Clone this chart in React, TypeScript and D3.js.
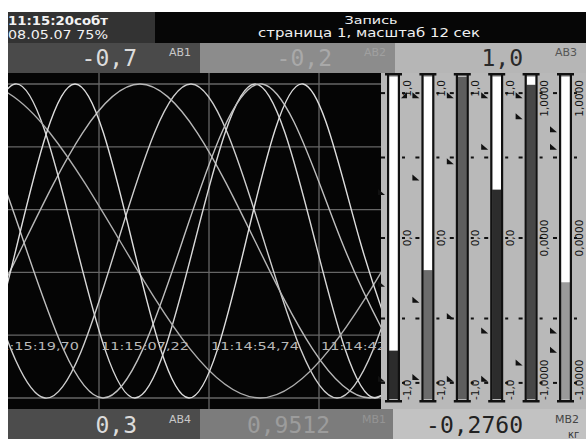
import React from "react";
import * as d3 from "d3";

// ---- data ----
const channels = ["АВ1", "АВ2", "АВ3", "АВ4", "МВ1", "МВ2"];
const currentValues = [-0.7, -0.2, 1.0, 0.3, 0.9512, -0.276];
const valueLabels = ["-0,7", "-0,2", "1,0", "0,3", "0,9512", "-0,2760"];
const scaleTop = ["1,0", "1,0", "1,0", "1,0", "1,0000", "1,0000"];
const scaleMid = ["0,0", "0,0", "0,0", "0,0", "0,0000", "0,0000"];
const scaleBottom = ["-1,0", "-1,0", "-1,0", "-1,0", "-1,0000", "-1,0000"];
const timeLabels = ["11:15:19,70", "11:15:07,22", "11:14:54,74", "11:14:42,26", "11:14:29,78"];
const gridStepSec = 12.48;
const gridValues = [1, 0.6, 0.2, -0.2, -0.6, -1];
const barTicks = [0.9, 0.5, 0, -0.5, -0.9];

// trend key points: [seconds after 11:15:19,70 line (going right), value]
const ab1Trend = [[-10.21, 1.06], [-1.93, 0], [6.35, -1.06], [14.64, 0], [22.92, 1.06], [31.2, 0], [39.48, -1.06], [47.76, 0]];
const ab2Trend = [[-22.01, 0], [-8.96, -1.06], [4.08, 0], [17.13, 1.06], [30.18, 0], [43.23, -1.06], [56.27, 0]];
const ab3Trend = [[-10.66, -1.06], [-3.86, 0], [2.95, 1.06], [9.76, 0], [16.56, -1.06], [23.37, 0], [30.18, 1.06], [36.99, 0], [43.79, -1.06], [50.6, 0]];
const ab4Trend = [[-14.13, 0], [-5.11, 1.06], [3.91, 0], [12.93, -1.06], [21.95, 0], [30.97, 1.06], [39.99, 0], [49.01, -1.06]];
const mv1Trend = [[-16.9, 0], [-1.02, 1.06], [14.86, 0], [30.75, -1.06], [46.63, 0]];
const mv2Trend = [[-9.64, 0], [-3.18, -1.06], [3.29, 0], [9.76, 1.06], [16.22, 0], [22.69, -1.06], [29.16, 0], [35.63, 1.06], [42.09, 0], [48.56, -1.06]];
const trends = [ab1Trend, ab2Trend, ab3Trend, ab4Trend, mv1Trend, mv2Trend];
const trendColors = ["#cfcfcf", "#b8b8b8", "#d8d8d8", "#c0c0c0", "#aeaeae", "#dedede"];

// setpoint markers per bar (value)
const markersLeft = [
  [0.28, -0.29, -0.88],
  [0.88, 0.37, -0.39, -0.87],
  [0.88, 0.47, -0.49, -0.88],
  [0.88, 0.56, -0.58, -0.88],
  [0.88, 0.75, -0.78],
  [0.67, 0.56, -0.58, -0.7],
];
const markersRight = [[0.88], [], [], [], [], []];

const barFillColors = ["#2c2c2c", "#6c6c6c", "#5e5e5e", "#2c2c2c", "#474747", "#9a9a9a"];
const rowBoxColors = ["#4a4a4a", "#8c8c8c", "#b6b6b6", "#4c4c4c", "#7c7c7c", "#c2c2c2"];
const rowValueColors = ["#dcdcdc", "#a9a9a9", "#2a2a2a", "#dcdcdc", "#9c9c9c", "#222222"];
const rowLabelColors = ["#c8c8c8", "#a0a0a0", "#555555", "#c8c8c8", "#949494", "#444444"];

export default function App() {
  const W = 586;
  const H = 439;
  const plotL = 8, plotR = 381, plotT = 73, plotB = 409;

  const xScale = d3.scaleLinear().domain([0, gridStepSec]).range([-11, 99]);
  const yScale = d3.scaleLinear().domain([-1, 1]).range([398, 84]).clamp(true);
  const line = d3
    .line<number[]>()
    .x((d) => xScale(d[0]))
    .y((d) => yScale(d[1]))
    .curve(d3.curveNatural);

  const barX = d3.scaleLinear().domain([0, 5]).range([387, 559]);
  const barY = d3.scaleLinear().domain([-1, 1]).range([399, 77]);
  const gridTimes = timeLabels.map((_, i) => i * gridStepSec);

  const boxEdges = [
    [8, 200], [200, 395], [395, 586],
    [8, 200], [200, 393], [393, 586],
  ];

  const sans = "'DejaVu Sans', 'Liberation Sans', sans-serif";
  const mono = "'DejaVu Sans Mono', 'Liberation Mono', monospace";

  return (
    <div style={{ position: "absolute", left: 0, top: 0 }}>
      <svg width={W} height={H} style={{ display: "block" }}>
        <defs>
          <clipPath id="plotClip">
            <rect x={plotL} y={plotT} width={plotR - plotL} height={plotB - plotT} />
          </clipPath>
        </defs>
        <rect x={0} y={0} width={W} height={H} fill="#ffffff" />

        {/* header */}
        <rect x={8} y={12} width={W - 8} height={31} fill="#060606" />
        <rect x={8} y={12} width={147} height={31} fill="#333333" />
        <text x={8} y={25} fill="#f2f2f2" fontFamily={sans} fontSize={13} fontWeight="bold" textLength={100} lengthAdjust="spacingAndGlyphs">11:15:20собт</text>
        <text x={8} y={39} fill="#f2f2f2" fontFamily={sans} fontSize={13} textLength={100} lengthAdjust="spacingAndGlyphs">08.05.07 75%</text>
        <text x={371} y={24} fill="#f0f0f0" fontFamily={sans} fontSize={11} textAnchor="middle" textLength={53} lengthAdjust="spacingAndGlyphs">Запись</text>
        <text x={369} y={37} fill="#f0f0f0" fontFamily={sans} fontSize={11.5} textAnchor="middle" textLength={222} lengthAdjust="spacingAndGlyphs">страница 1, масштаб 12 сек</text>

        {/* value rows */}
        {channels.map((ch, i) => {
          const [x0, x1] = boxEdges[i];
          const top = i < 3;
          const y0 = top ? 43 : 409;
          const vy = top ? 66 : 433;
          const ly = top ? 56 : 423;
          return (
            <g key={ch}>
              <rect x={x0} y={y0} width={x1 - x0} height={30} fill={rowBoxColors[i]} />
              <text x={x1 - 63} y={vy} fill={rowValueColors[i]} fontFamily={mono} fontSize={23} textAnchor="end">{valueLabels[i]}</text>
              <text x={x1 - 31} y={ly} fill={rowLabelColors[i]} fontFamily={sans} fontSize={11}>{ch}</text>
            </g>
          );
        })}
        <text x={568} y={438} fill="#333" fontFamily={sans} fontSize={10}>кг</text>

        {/* plot */}
        <rect x={plotL} y={plotT} width={plotR - plotL} height={plotB - plotT} fill="#050505" />
        <g clipPath="url(#plotClip)">
          {gridValues.map((v) => (
            <line key={"h" + v} x1={plotL} x2={plotR} y1={yScale(v)} y2={yScale(v)} stroke="#666666" strokeWidth={1.3} />
          ))}
          {gridTimes.map((t) => (
            <line key={"v" + t} x1={xScale(t)} x2={xScale(t)} y1={plotT} y2={plotB} stroke="#666666" strokeWidth={1.3} />
          ))}
          {trends.map((tr, i) => (
            <path key={"t" + i} d={line(tr) || ""} fill="none" stroke={trendColors[i]} strokeWidth={1.4} />
          ))}
          {timeLabels.map((lb, i) => (
            <text key={lb} x={xScale(gridTimes[i]) + 2} y={350} fill="#b8b8b8" fontFamily={sans} fontSize={11} textLength={88} lengthAdjust="spacingAndGlyphs">{lb}</text>
          ))}
        </g>

        {/* bar panel */}
        <rect x={plotR} y={plotT} width={W - plotR} height={plotB - plotT} fill="#b9b9b9" />
        {channels.map((ch, i) => {
          const x0 = barX(i);
          const vY = barY(currentValues[i]);
          const lx = x0 + 20;
          return (
            <g key={"bar" + ch}>
              <rect x={x0 + 2} y={barY(1)} width={9} height={vY - barY(1)} fill="#ffffff" />
              <rect x={x0 + 2} y={vY} width={9} height={barY(-1) - vY} fill={barFillColors[i]} />
              <rect x={x0} y={barY(1) - 2} width={2.2} height={barY(-1) - barY(1) + 4} fill="#111" />
              <rect x={x0 + 10.8} y={barY(1) - 2} width={2.2} height={barY(-1) - barY(1) + 4} fill="#111" />
              <rect x={x0 - 2} y={barY(1) - 4} width={17} height={2.5} fill="#111" />
              <rect x={x0 - 2} y={barY(-1) + 1} width={17} height={2.5} fill="#111" />
              {barTicks.map((t) => (
                <g key={"tk" + t}>
                  <rect x={x0 - 6} y={barY(t) - 1} width={4} height={2} fill="#111" />
                  <rect x={x0 + 15} y={barY(t) - 1} width={3} height={2} fill="#111" />
                </g>
              ))}
              {markersLeft[i].map((m) => {
                const y = barY(m);
                return <path key={"ml" + m} d={`M${x0 - 9},${y - 4}L${x0 - 2},${y + 2}L${x0 - 9},${y + 2}Z`} fill="#111" />;
              })}
              {markersRight[i].map((m) => {
                const y = barY(m);
                return <path key={"mr" + m} d={`M${x0 + 20},${y - 4}L${x0 + 14},${y + 2}L${x0 + 20},${y + 2}Z`} fill="#111" />;
              })}
              <text transform={`translate(${lx},${barY(1) + 3}) rotate(-90)`} textAnchor="end" fontFamily={sans} fontSize={10.5} fill="#111" dy="0.35em">{scaleTop[i]}</text>
              <text transform={`translate(${lx},${barY(0)}) rotate(-90)`} textAnchor="middle" fontFamily={sans} fontSize={10.5} fill="#111" dy="0.35em">{scaleMid[i]}</text>
              <text transform={`translate(${lx},${barY(-1) + 1}) rotate(-90)`} textAnchor="start" fontFamily={sans} fontSize={10.5} fill="#111" dy="0.35em">{scaleBottom[i]}</text>
            </g>
          );
        })}
      </svg>
    </div>
  );
}
